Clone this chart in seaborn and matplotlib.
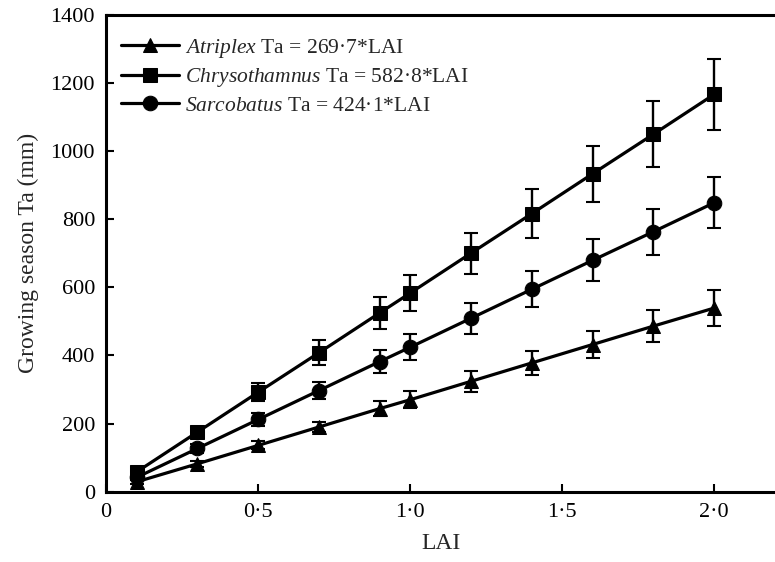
import numpy as np
import pandas as pd
import seaborn as sns
import matplotlib.pyplot as plt
from matplotlib.ticker import FuncFormatter

lai = [0.1, 0.3, 0.5, 0.7, 0.9, 1.0, 1.2, 1.4, 1.6, 1.8, 2.0]

atriplex = [29, 82, 136, 190, 244, 270, 324, 378, 432, 486, 539]
atriplex_err = [5, 8, 12, 16, 22, 25, 30, 35, 40, 46, 52]

chrysothamnus = [58, 175, 292, 408, 525, 583, 700, 816, 933, 1049, 1166]
chrysothamnus_err = [8, 15, 27, 37, 47, 52, 60, 72, 82, 97, 105]

sarcobatus = [42, 127, 212, 297, 382, 424, 509, 594, 679, 763, 848]
sarcobatus_err = [6, 12, 18, 25, 33, 38, 45, 53, 62, 68, 75]

labels = [
    r"$\mathit{Atriplex}$ Ta = 269·7*LAI",
    r"$\mathit{Chrysothamnus}$ Ta = 582·8*LAI",
    r"$\mathit{Sarcobatus}$ Ta = 424·1*LAI",
]
markers = ["^", "s", "o"]

sns.set_theme(style="ticks")
plt.rcParams["font.family"] = ["Liberation Serif", "DejaVu Serif"]
plt.rcParams["mathtext.fontset"] = "custom"
plt.rcParams["mathtext.it"] = "Liberation Serif:italic"
plt.rcParams["mathtext.rm"] = "Liberation Serif"

df = pd.DataFrame({
    "LAI": lai * 3,
    "Ta": atriplex + chrysothamnus + sarcobatus,
    "err": atriplex_err + chrysothamnus_err + sarcobatus_err,
    "species": np.repeat(labels, len(lai)),
})

fig = plt.figure(figsize=(7.75, 5.62), dpi=100)
ax = fig.add_axes([0.137, 0.125, 0.863, 0.849])

# error bars first, lines and markers drawn over them
for lab in labels:
    sub = df[df["species"] == lab]
    ax.errorbar(sub["LAI"], sub["Ta"], yerr=sub["err"], fmt="none",
                ecolor="black", elinewidth=1.7, capsize=5, capthick=1.5, zorder=2)

sns.lineplot(data=df, x="LAI", y="Ta", hue="species", style="species",
             markers=dict(zip(labels, markers)), dashes=False,
             palette=["black"] * 3, markersize=10.5, markeredgecolor="black",
             linewidth=2.3, ax=ax, zorder=3)

ax.set_xlim(0, 2.2)
ax.set_ylim(0, 1400)
ax.set_xticks([0, 0.5, 1.0, 1.5, 2.0])
ax.set_yticks(range(0, 1401, 200))
ax.xaxis.set_major_formatter(FuncFormatter(lambda v, p: "0" if v == 0 else f"{v:.1f}".replace(".", "·")))
ax.tick_params(direction="in", length=6, width=1.5, labelsize=16, colors="black", pad=8)
for s in ["left", "bottom", "top"]:
    ax.spines[s].set_linewidth(2.2)
    ax.spines[s].set_color("black")
ax.spines["right"].set_visible(False)

ax.set_xlabel("LAI", fontsize=17, labelpad=8)
ax.set_ylabel("Growing season Ta (mm)", fontsize=17, labelpad=8)

ax.legend(title=None, frameon=False, loc="upper left", fontsize=15.5,
          handlelength=2.7, handletextpad=0.25, labelspacing=0.3,
          bbox_to_anchor=(0.0, 0.985), borderaxespad=0.3)

fig.savefig("out.png", dpi=100)
